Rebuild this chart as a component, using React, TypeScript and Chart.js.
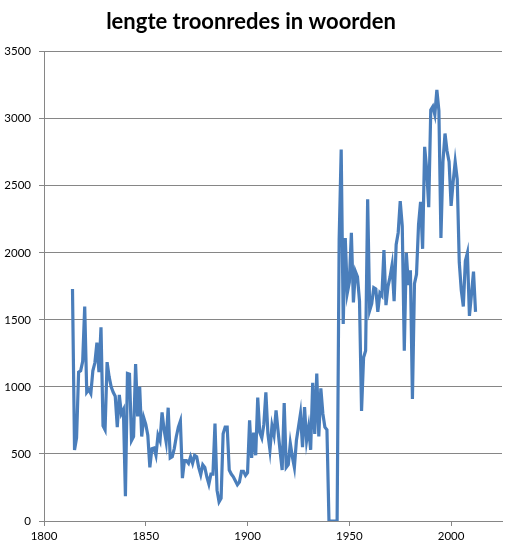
import React, { useEffect, useRef } from "react";
import { Chart, registerables } from "chart.js";

Chart.register(...registerables);

// troonredes per year, 1814..2012 (0 = no speech during the war)
const firstYear = 1814;
const words: number[] = [
  // 1814-1839
  1730, 530, 620, 1110, 1120, 1190, 1600, 960, 980, 950,
  1120, 1180, 1330, 1110, 1445, 710, 680, 1185, 1075, 1000,
  960, 930, 700, 940, 800, 830,
  // 1840-1869
  185, 1100, 1095, 600, 630, 1170, 780, 1000, 630, 770,
  720, 640, 400, 540, 545, 490, 640, 600, 810, 680,
  590, 845, 470, 480, 540, 630, 700, 745, 320, 450,
  // 1870-1899
  450, 430, 480, 430, 490, 480, 400, 345, 420, 400,
  330, 275, 350, 350, 726, 230, 143, 170, 650, 700,
  700, 380, 350, 330, 300, 270, 290, 370, 370, 340,
  // 1900-1939
  360, 750, 470, 660, 490, 920, 660, 620, 720, 960,
  650, 530, 710, 640, 825, 670, 520, 380, 880, 400,
  420, 580, 480, 400, 600, 700, 800, 550, 850, 600,
  700, 530, 1030, 650, 1100, 630, 990, 800, 700, 680,
  // 1940-1969
  0, 0, 0, 0, 0, 2100, 2770, 1470, 2110, 1700,
  1780, 2150, 1630, 1860, 1820, 1640, 820, 1220, 1270, 2400,
  1570, 1620, 1740, 1730, 1560, 1700, 1680, 2020, 1610, 1750,
  // 1970-1999
  1820, 1910, 1640, 2060, 2150, 2385, 2200, 1270, 2000, 1760,
  1870, 910, 1770, 1840, 2210, 2380, 2030, 2790, 2620, 2340,
  3065, 3090, 3030, 3215, 3060, 2110, 2680, 2890, 2760, 2680,
  // 2000-2012
  2350, 2530, 2680, 2550, 1930, 1720, 1600, 1940, 2000, 1530,
  1690, 1860, 1560,
];
const years = words.map((_, i) => firstYear + i);

const xTicks = [1800, 1850, 1900, 1950, 2000];
const yTicks = [0, 500, 1000, 1500, 2000, 2500, 3000, 3500];

const App: React.FC = () => {
  const canvas = useRef<HTMLCanvasElement>(null);

  useEffect(() => {
    const chart = new Chart(canvas.current!.getContext("2d")!, {
      type: "line",
      data: {
        datasets: [
          {
            data: years.map((y, i) => ({ x: y, y: words[i] })),
            borderColor: "#4a7ebb",
            borderWidth: 3.2,
            pointRadius: 0,
            tension: 0,
          },
        ],
      },
      options: {
        animation: false,
        responsive: false,
        layout: { padding: { left: 0, right: 3, top: 0, bottom: 0 } },
        plugins: {
          legend: { display: false },
          tooltip: { enabled: false },
          title: {
            display: true,
            text: "lengte troonredes in woorden",
            color: "#000",
            font: { family: "Lato", size: 22, weight: "bold" },
            padding: { top: 9, bottom: 16.3 },
          },
        },
        scales: {
          x: {
            type: "linear",
            min: 1800,
            max: 2025,
            afterBuildTicks: s => {
              s.ticks = xTicks.map(v => ({ value: v }));
            },
            afterFit: s => {
              s.height = 26;
            },
            grid: { drawOnChartArea: false, color: "#868686", tickLength: 5 },
            border: { color: "#868686" },
            ticks: {
              color: "#000",
              font: { family: "Lato", size: 11.5 },
              maxRotation: 0,
              padding: 3,
              callback: v => String(v),
            },
          },
          y: {
            min: 0,
            max: 3500,
            afterBuildTicks: s => {
              s.ticks = yTicks.map(v => ({ value: v }));
            },
            afterFit: s => {
              s.width = 44;
            },
            grid: { color: "#868686", tickLength: 5 },
            border: { color: "#868686" },
            ticks: {
              color: "#000",
              font: { family: "Lato", size: 11.5 },
              padding: 8,
              callback: v => String(v),
            },
          },
        },
      },
    });

    return () => {
      chart.destroy();
    };
  }, []);

  return (
    <div style={{ position: "fixed", left: 0, top: 0, width: 505, height: 547, background: "#fff" }}>
      <canvas ref={canvas} width={505} height={547} style={{ width: 505, height: 547 }}></canvas>
    </div>
  );
};

export default App;
